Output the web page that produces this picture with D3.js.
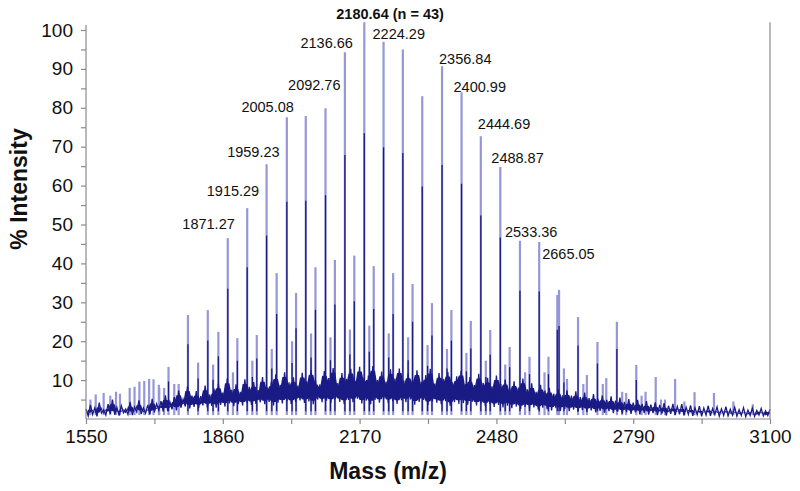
<!DOCTYPE html>
<html><head><meta charset="utf-8">
<script src="https://cdn.jsdelivr.net/npm/d3@7/dist/d3.min.js"></script>
<style>
html,body{margin:0;padding:0;background:#fff;}
svg{display:block;font-family:Arial,"Liberation Sans",sans-serif;}
</style></head>
<body><svg id="c" width="800" height="491"></svg>
<script>
// ---------------- DATA ----------------
const xTicks = [1550, 1860, 2170, 2480, 2790, 3100];
const xMinorTicks = [1705, 2015, 2325, 2635, 2945];
const yTicks = [10, 20, 30, 40, 50, 60, 70, 80, 90, 100];
const yMinorTicks = [5, 15, 25, 35, 45, 55, 65, 75, 85, 95];

// main oligomer series (m/z, % intensity)
const seriesAMz = [1605, 1649, 1693, 1737, 1781, 1826, 1871.27, 1915.29, 1959.23, 2005.08, 2048, 2092.76, 2136.66, 2180.64, 2224.29, 2268, 2312, 2356.84, 2400.99, 2444.69, 2488.87, 2533.36, 2577, 2618, 2622, 2665, 2709, 2753, 2797, 2841, 2885, 2929, 2973, 3017, 3061];
const seriesAInt = [6, 8, 10.3, 13.4, 26.7, 28, 46.5, 54.2, 65.5, 77.6, 77.9, 79.9, 94.3, 102, 97, 95, 83, 90.7, 84, 72.7, 64.8, 45.8, 45.5, 31.9, 33.2, 26.2, 19.8, 25, 13.9, 10.8, 10.3, 6.9, 6.7, 4.5, 3.8];
// second series
const seriesBMz = [1716, 1760, 1804, 1850, 1893, 1937, 1982, 2026, 2070, 2114, 2158, 2202, 2246, 2290, 2334, 2378, 2422, 2466, 2510, 2555, 2598, 2640, 2685, 2729, 2774, 2818, 2862, 2906];
const seriesBInt = [8, 9, 14.5, 22.4, 20.8, 21.6, 37.5, 32.4, 39, 40.9, 42, 39.3, 37.5, 34.7, 29.8, 28, 25.2, 22.9, 18.5, 16, 16, 10.3, 11.3, 10.5, 6.7, 7, 5, 4.5];
// third series
const seriesCMz = [1838, 1883, 1927, 1971, 2017, 2060, 2104, 2148, 2192, 2236, 2280, 2324, 2368, 2412, 2456, 2500, 2545, 2589, 2633, 2677, 2721, 2765, 2809, 2853];
const seriesCInt = [14, 12, 15, 18, 20, 22, 21, 23, 24, 22, 21, 19, 18, 17, 15, 14, 12, 12, 13, 9, 9, 7, 6, 5];
// small spikes in the low-mass region
const spikeMz = [1560, 1572, 1590, 1618, 1627, 1660, 1671, 1682, 1703, 1715, 1727, 1750];
const spikeInt = [5, 6.3, 6.7, 7, 6.5, 8.3, 9.6, 9.8, 10.2, 8.8, 8, 9];

// baseline noise trace, one value every 5 m/z from 1550 to 3100
const noiseStart = 1550, noiseStep = 5;
const noise = [
 2.5,0.8,3.6,1.2,2.9,0.7,4.2,1.5,2.4,1.0,
 3.8,1.3,5.0,1.1,3.0,0.9,3.4,1.6,2.6,1.2,
 4.4,1.0,3.1,1.8,4.8,1.3,2.9,1.5,3.6,1.2,
 5.2,1.7,3.9,2.2,4.6,1.9,6.1,2.0,4.4,2.5,
 5.6,2.2,7.3,2.9,5.1,3.2,8.4,2.7,6.0,3.1,
 7.2,2.8,5.9,3.5,8.6,3.0,6.3,3.4,7.8,2.9,
 9.1,3.6,6.8,3.2,10.4,4.0,7.5,3.3,8.9,3.8,
 7.0,3.5,10.2,4.1,8.3,3.6,9.5,3.9,7.4,4.3,
 10.8,3.8,8.2,4.4,9.6,3.5,11.5,4.2,8.8,4.0,
 12.0,4.6,9.4,3.9,10.7,4.4,8.6,4.8,11.9,4.1,
 9.7,4.5,12.6,3.8,10.1,5.0,8.9,4.3,12.3,4.7,
 10.5,4.2,13.1,5.1,9.2,4.4,11.8,3.9,10.3,4.9,
 12.9,4.3,9.8,5.2,13.4,4.0,10.6,4.7,11.2,3.8,
 13.6,4.9,10.0,4.2,12.2,5.3,9.6,4.1,12.8,4.6,
 10.4,3.9,13.0,4.8,9.9,4.3,11.7,5.0,10.2,3.7,
 12.5,4.4,9.5,4.9,11.3,3.6,12.9,4.5,9.1,4.2,
 11.8,3.8,10.3,4.6,12.1,3.4,9.4,4.3,11.0,3.9,
 12.4,4.1,9.0,3.7,10.8,4.4,8.7,3.5,11.6,4.0,
 9.3,3.3,10.6,3.9,8.4,3.1,11.2,3.6,9.0,3.0,
 10.1,3.4,7.9,2.8,9.7,3.2,8.1,2.6,10.4,3.1,
 7.6,2.7,9.2,3.0,7.0,2.4,8.8,2.9,7.3,2.5,
 8.0,2.2,6.5,2.8,7.7,2.1,6.1,2.6,7.4,2.0,
 6.0,2.4,7.1,1.9,5.6,2.3,6.8,1.8,5.4,2.2,
 6.4,1.7,5.2,2.1,6.0,1.6,4.9,2.0,5.8,1.5,
 4.7,1.9,5.5,1.4,4.4,1.8,5.1,1.3,4.2,1.7,
 4.9,1.2,3.9,1.6,4.6,1.1,3.7,1.5,4.3,1.0,
 3.6,1.4,4.1,0.9,3.4,1.3,3.9,1.0,3.2,1.2,
 3.8,0.9,3.0,1.2,3.5,0.8,2.9,1.1,3.3,0.7,
 2.8,1.0,3.4,0.8,2.7,1.1,3.1,0.7,2.6,0.9,
 3.2,0.8,2.5,1.0,3.0,0.7,2.4,0.9,2.9,0.6,
 2.3,0.9,2.8,0.7,2.2,1.0,2.7,0.8,2.1,0.9,
 2.5
];

// peak annotations
const labelText = ["1871.27", "1915.29", "1959.23", "2005.08", "2092.76", "2136.66", "2180.64 (n = 43)", "2224.29", "2356.84", "2400.99", "2444.69", "2488.87", "2533.36", "2665.05"];
const labelMz = [1871.27, 1915.29, 1959.23, 2005.08, 2092.76, 2136.66, 2180.64, 2224.29, 2356.84, 2400.99, 2444.69, 2488.87, 2533.36, 2577];

// ---------------- LAYOUT ----------------
const navy = "#1b1b86", lav = "#9696d8", axisCol = "#8a8a8a";
const svg = d3.select("#c");
const x = d3.scaleLinear().domain([1550, 3100]).range([86, 770]);
const y = d3.scaleLinear().domain([0, 100]).range([419, 30]);

// label layout: [dx from peak, dy above peak top, anchor, bold]
const labelLayout = [
 [7, 9, "end"], [12, 12, "end"], [13, 7, "end"], [7, 5, "end"],
 [15, 18, "end"], [8, 4, "end"], [-28, 3, "start", true], [-11, 3, "start"],
 [-3, 2, "start"], [-8, 0, "start"], [-3, 7, "start"], [-9, 4, "start"],
 [-15, 4, "start"], [3, -17, "start"]
];

// ---------------- PEAKS ----------------
const peaks = [];
seriesAMz.forEach((m, i) => peaks.push([m, seriesAInt[i]]));
seriesBMz.forEach((m, i) => peaks.push([m, seriesBInt[i]]));
seriesCMz.forEach((m, i) => peaks.push([m, seriesCInt[i]]));
spikeMz.forEach((m, i) => peaks.push([m, spikeInt[i]]));

const gp = svg.append("g");
gp.selectAll("line.pk").data(peaks).join("line")
  .attr("x1", d => x(d[0])).attr("x2", d => x(d[0]))
  .attr("y1", y(1)).attr("y2", d => y(d[1]))
  .attr("stroke", lav).attr("stroke-width", 2.2);
gp.selectAll("line.pc").data(peaks.filter(d => d[1] > 12)).join("line")
  .attr("x1", d => x(d[0])).attr("x2", d => x(d[0]))
  .attr("y1", y(2)).attr("y2", d => y(d[1] * 0.72))
  .attr("stroke", navy).attr("stroke-width", 1.3);

// noise band: filled between local minima and maxima of the trace
const lo = noise.map((d, i) => Math.min(d, noise[Math.max(0, i - 1)], noise[Math.min(noise.length - 1, i + 1)]));
const hi = noise.map((d, i) => Math.max(d, noise[Math.max(0, i - 1)], noise[Math.min(noise.length - 1, i + 1)]));
const band = d3.area()
  .x((d, i) => x(noiseStart + i * noiseStep))
  .y0((d, i) => y(lo[i] + 0.9)).y1((d, i) => y(hi[i] - 1.2));
svg.append("path").datum(noise).attr("d", band).attr("fill", navy);

// noise trace
const line = d3.line().x((d, i) => x(noiseStart + i * noiseStep)).y(d => y(d));
svg.append("path").datum(noise).attr("d", line)
  .attr("fill", "none").attr("stroke", navy).attr("stroke-width", 1.3)
  .attr("stroke-linejoin", "miter");

// ---------------- AXES ----------------
const ax = svg.append("g").attr("fill", "none").attr("stroke", axisCol).attr("stroke-width", 1.2);
ax.append("line").attr("x1", x(1550)).attr("x2", x(1550)).attr("y1", y(101.3)).attr("y2", y(0));
ax.append("line").attr("x1", x(3100)).attr("x2", x(3100)).attr("y1", y(102)).attr("y2", y(0));
ax.append("line").attr("x1", x(1550)).attr("x2", x(3100)).attr("y1", y(0)).attr("y2", y(0));

const yAxis = svg.append("g").attr("transform", `translate(${x(1550)},0)`)
  .call(d3.axisLeft(y).tickValues(yTicks).tickSize(5).tickPadding(8));
const yMinor = svg.append("g").attr("transform", `translate(${x(1550)},0)`)
  .call(d3.axisLeft(y).tickValues(yMinorTicks).tickSize(5).tickFormat(""));
const xAxis = svg.append("g").attr("transform", `translate(0,${y(0)})`)
  .call(d3.axisBottom(x).tickValues(xTicks).tickSize(5).tickPadding(6).tickFormat(d3.format("d")));
const xMinor = svg.append("g").attr("transform", `translate(0,${y(0)})`)
  .call(d3.axisBottom(x).tickValues(xMinorTicks).tickSize(5).tickFormat(""));
[yAxis, yMinor, xAxis, xMinor].forEach(g => {
  g.select(".domain").remove();
  g.selectAll(".tick line").attr("stroke", axisCol).attr("stroke-width", 1.2);
  g.selectAll(".tick text").attr("fill", "#111").style("font-size", "19px")
    .style("font-family", 'Arial,"Liberation Sans",sans-serif');
});

// axis titles
svg.append("text").attr("transform", "translate(27,189) rotate(-90)")
  .attr("text-anchor", "middle").attr("font-weight", "bold").attr("font-size", 23)
  .attr("fill", "#111").text("% Intensity");
svg.append("text").attr("x", 388).attr("y", 479)
  .attr("text-anchor", "middle").attr("font-weight", "bold").attr("font-size", 23)
  .attr("fill", "#111").text("Mass (m/z)");

// peak labels
const peakTop = m => {
  let best = null;
  seriesAMz.forEach((v, i) => { if (best === null || Math.abs(v - m) < Math.abs(seriesAMz[best] - m)) best = i; });
  return seriesAInt[best];
};
labelText.forEach((t, i) => {
  const L = labelLayout[i];
  svg.append("text")
    .attr("x", x(labelMz[i]) + L[0])
    .attr("y", y(peakTop(labelMz[i])) - L[1])
    .attr("text-anchor", L[2])
    .attr("font-size", 14.5)
    .attr("font-weight", L[3] ? "bold" : "normal")
    .attr("fill", "#111").text(t);
});
</script></body></html>
